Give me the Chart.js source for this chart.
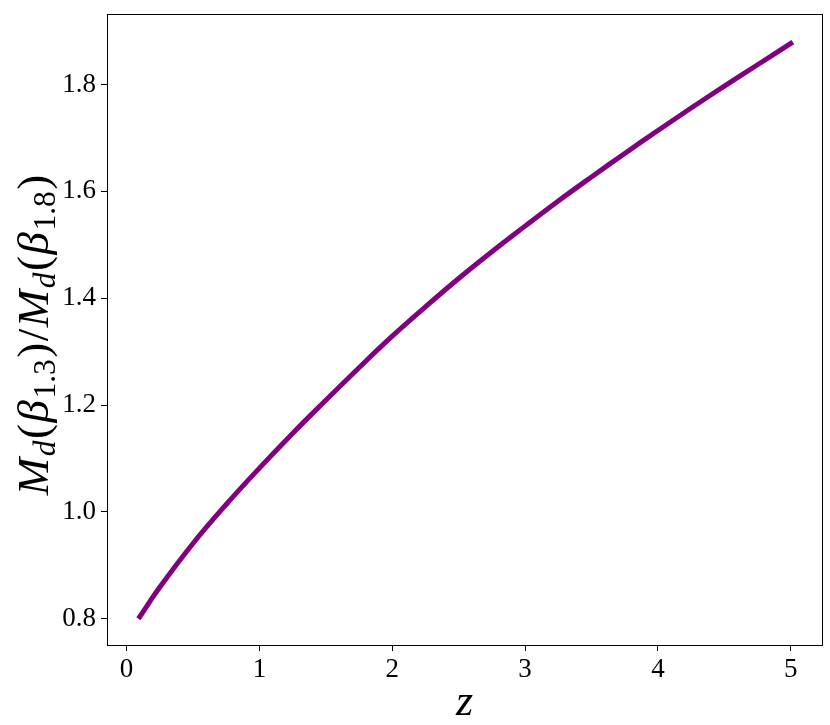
<!DOCTYPE html>
<html>
<head>
<meta charset="utf-8">
<script src="https://cdn.jsdelivr.net/npm/chart.js@4.4.0/dist/chart.umd.min.js"></script>
<style>
  html, body { margin: 0; padding: 0; background: #fff; }
  #wrap { width: 830px; height: 725px; }
</style>
</head>
<body>
<div id="wrap"><canvas id="c" width="830" height="725"></canvas></div>
<script>
// ---- data ----
const zValues = [0.1, 0.25, 0.5, 0.75, 1.0, 1.25, 1.5, 1.75, 2.0, 2.25, 2.5, 2.75, 3.0, 3.25, 3.5, 3.75, 4.0, 4.25, 4.5, 4.75, 5.0];
const ratioValues = [0.804, 0.859, 0.941, 1.014, 1.082, 1.147, 1.209, 1.270, 1.329, 1.384, 1.437, 1.487, 1.535, 1.582, 1.627, 1.671, 1.714, 1.756, 1.797, 1.837, 1.877];
const xTicks = [0, 1, 2, 3, 4, 5];
const yTicks = [0.8, 1.0, 1.2, 1.4, 1.6, 1.8];
const xTitle = 'z';
// y title pieces: [text, italic, subscript]
const yTitleParts = [
  ['M', true, false], ['d', true, true], ['(', false, false], ['β', true, false], ['1.3', false, true], [')', false, false],
  ['/', false, false],
  ['M', true, false], ['d', true, true], ['(', false, false], ['β', true, false], ['1.8', false, true], [')', false, false]
];

const FONT = '"Liberation Serif", "DejaVu Serif", serif';
const TITLE_SIZE = 45;

const titlePlugin = {
  id: 'titles',
  afterDraw(chart) {
    const ctx = chart.ctx;
    const ca = chart.chartArea;
    ctx.save();
    // frame
    ctx.strokeStyle = '#000';
    ctx.lineWidth = 1;
    ctx.strokeRect(Math.round(ca.left) + 0.5, Math.round(ca.top) + 0.5, Math.round(ca.right - ca.left), Math.round(ca.bottom - ca.top));
    // x title
    ctx.fillStyle = '#000';
    ctx.font = 'italic 44px ' + FONT;
    ctx.textAlign = 'center';
    ctx.textBaseline = 'alphabetic';
    ctx.fillText(xTitle, (ca.left + ca.right) / 2, 715);
    // y title (rotated)
    const fontFor = (p) => {
      const size = p[2] ? TITLE_SIZE * 0.7 : TITLE_SIZE;
      return (p[1] ? 'italic ' : '') + size + 'px ' + FONT;
    };
    const gap = 1.5;
    let total = 0;
    const widths = yTitleParts.map(p => { ctx.font = fontFor(p); const w = ctx.measureText(p[0]).width; total += w; return w; });
    total += gap * (yTitleParts.length - 1);
    ctx.translate(48, 335);
    ctx.rotate(-Math.PI / 2);
    ctx.textAlign = 'left';
    let x = -total / 2;
    yTitleParts.forEach((p, i) => {
      ctx.font = fontFor(p);
      ctx.fillText(p[0], x, p[2] ? TITLE_SIZE * 0.16 : 0);
      x += widths[i] + gap;
    });
    ctx.restore();
  }
};

new Chart(document.getElementById('c'), {
  type: 'line',
  data: {
    datasets: [{
      data: zValues.map((z, i) => ({ x: z, y: ratioValues[i] })),
      borderColor: '#800080',
      borderWidth: 5,
      borderCapStyle: 'square',
      pointRadius: 0,
      tension: 0.4,
      fill: false
    }]
  },
  options: {
    responsive: false,
    animation: false,
    events: [],
    layout: { padding: { top: 14, right: 8, left: 0, bottom: 0 } },
    plugins: { legend: { display: false }, tooltip: { enabled: false } },
    scales: {
      x: {
        type: 'linear',
        min: -0.147,
        max: 5.235,
        afterBuildTicks: (s) => { s.ticks = xTicks.map(v => ({ value: v })); },
        afterFit: (s) => { s.height = 80; s.paddingLeft = 0; s.paddingRight = 0; },
        grid: { display: true, drawOnChartArea: false, drawTicks: true, tickLength: 6, color: '#000', lineWidth: 1 },
        border: { display: false },
        ticks: { color: '#000', font: { family: FONT, size: 27 }, padding: 3, maxRotation: 0, autoSkip: false, callback: (v) => String(v) }
      },
      y: {
        type: 'linear',
        min: 0.751,
        max: 1.932,
        afterBuildTicks: (s) => { s.ticks = yTicks.map(v => ({ value: v })); },
        afterFit: (s) => { s.width = 107; s.paddingTop = 0; s.paddingBottom = 0; },
        grid: { display: true, drawOnChartArea: false, drawTicks: true, tickLength: 6, color: '#000', lineWidth: 1 },
        border: { display: false },
        ticks: { color: '#000', font: { family: FONT, size: 27 }, padding: 5, autoSkip: false, callback: (v) => Number(v).toFixed(1) }
      }
    }
  },
  plugins: [titlePlugin]
});
</script>
</body>
</html>
